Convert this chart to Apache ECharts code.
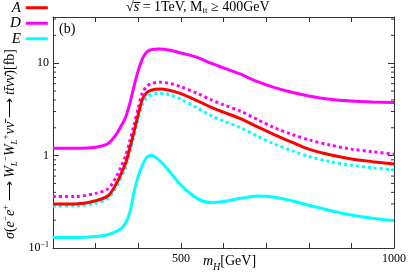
<!DOCTYPE html>
<html><head><meta charset="utf-8">
<script src="https://cdn.jsdelivr.net/npm/echarts@6/dist/echarts.min.js"></script>
<style>html,body{margin:0;padding:0;background:#fff}#c{width:409px;height:272px}</style>
</head><body><div id="c"></div><script>
// Higgs mass grid (GeV)
const mH = [200,250,300,330,350,360,370,380,390,400,410,420,430,450,475,500,540,570,600,640,680,720,760,800,850,900,950,1000];
// Cross sections [fb]
const seriesA  = [0.30,0.30,0.325,0.37,0.51,0.64,0.82,1.2,1.8,2.8,4.1,4.8,5.1,5.25,5.07,4.68,3.89,3.35,2.95,2.51,2.04,1.68,1.40,1.175,1.02,0.92,0.86,0.81];
const seriesD  = [1.2,1.2,1.23,1.36,1.74,2.1,2.57,3.63,5.6,8.3,11.2,13.2,14.0,14.2,13.8,12.9,11.5,10.0,8.9,7.6,6.3,5.43,4.84,4.42,4.07,3.89,3.80,3.75];
const seriesE  = [0.13,0.13,0.133,0.14,0.152,0.163,0.185,0.24,0.40,0.60,0.79,0.96,1.01,0.88,0.66,0.48,0.34,0.31,0.318,0.345,0.366,0.355,0.325,0.29,0.255,0.228,0.21,0.198];
const seriesD2 = [0.36,0.36,0.39,0.44,0.61,0.76,0.98,1.42,2.15,3.3,4.8,5.6,6.0,6.22,6.03,5.56,4.68,4.03,3.55,3.02,2.45,2.0,1.70,1.48,1.30,1.175,1.10,1.035];
const seriesE2 = [0.285,0.285,0.305,0.345,0.47,0.58,0.74,1.08,1.62,2.5,3.6,4.25,4.55,4.73,4.52,4.07,3.24,2.72,2.37,2.0,1.62,1.33,1.135,0.977,0.861,0.785,0.738,0.70];
const xTickLabels = [500, 1000];
const yTickLabels = [0.1, 1, 10];
const yMinorTicks = [0.2,0.3,0.4,0.5,0.6,0.7,0.8,0.9,2,3,4,5,6,7,8,9,20,30];

const X_MIN = 200, X_MAX = 1000, Y_MIN = 0.1, Y_MAX = 31.6;
const serif = 'Liberation Serif';
const pair = arr => mH.map((x, i) => [x, arr[i]]);

const chart = echarts.init(document.getElementById('c'), null, {renderer: 'canvas'});
const axisCol = '#333';
const xAxisBase = {
  type: 'value', min: X_MIN, max: X_MAX, interval: 100,
  axisLine: {show: true, lineStyle: {color: axisCol, width: 1}},
  axisTick: {show: true, inside: true, length: 5, lineStyle: {color: axisCol}},
  splitLine: {show: false}
};
const yAxisBase = {
  type: 'log', logBase: 10, min: Y_MIN, max: Y_MAX,
  axisLine: {show: true, lineStyle: {color: axisCol, width: 1}},
  axisTick: {show: true, inside: true, length: 6, lineStyle: {color: axisCol}},
  splitLine: {show: false}
};
const lineSeries = (name, data, color, dotted) => ({
  name, type: 'line', data: pair(data), showSymbol: false, symbol: 'none',
  smooth: 0.3,
  lineStyle: {color, width: 3, type: dotted ? [3, 3] : 'solid'},
  itemStyle: {color}, z: dotted ? 2 : 3
});

chart.setOption({
  animation: false,
  grid: {left: 53, right: 12, top: 17, bottom: 24},
  legend: {
    data: ['A', 'D', 'E'], orient: 'vertical', left: 5, top: -5, align: 'right',
    icon: 'rect', itemWidth: 22, itemHeight: 3, itemGap: 0,
    textStyle: {fontFamily: serif, fontStyle: 'italic', fontSize: 15, lineHeight: 15.5, color: '#000'}
  },
  xAxis: [
    Object.assign({}, xAxisBase, {position: 'bottom',
      axisLabel: {show: true, margin: 5, fontFamily: serif, fontSize: 12, color: '#000',
        formatter: v => xTickLabels.includes(v) ? String(v) : ''}}),
    Object.assign({}, xAxisBase, {position: 'top', axisLabel: {show: false}})
  ],
  yAxis: [
    Object.assign({}, yAxisBase, {position: 'left',
      axisLabel: {show: true, margin: 4, fontFamily: serif, fontSize: 12, color: '#000',
        formatter: v => {
          const r = yTickLabels.find(t => Math.abs(t - v) / t < 1e-6);
          if (r === undefined) return '';
          if (r === 0.1) return '{b|10}{s|−1}';
          return '{b|' + r + '}';
        },
        rich: {b: {fontFamily: serif, fontSize: 12, color: '#000'},
               s: {fontFamily: serif, fontSize: 8, color: '#000', padding: [0, 0, 7, 0]}}}}),
    Object.assign({}, yAxisBase, {position: 'right', axisLabel: {show: false}})
  ],
  series: [
    lineSeries('E′', seriesE2, '#00ffff', true),
    lineSeries('D′', seriesD2, '#ff00ff', true),
    lineSeries('A', seriesA, '#ff0000', false),
    lineSeries('D', seriesD, '#ff00ff', false),
    lineSeries('E', seriesE, '#00ffff', false),
    {
      name: 'minorTicks', type: 'custom', silent: true, z: 1,
      data: yMinorTicks.map(v => [X_MIN, v]),
      renderItem: (params, api) => {
        const v = api.value(1);
        const pl = api.coord([X_MIN, v]);
        const pr = api.coord([X_MAX, v]);
        const st = {stroke: axisCol, lineWidth: 1};
        return {type: 'group', children: [
          {type: 'line', shape: {x1: pl[0], y1: pl[1], x2: pl[0] + 3, y2: pl[1]}, style: st},
          {type: 'line', shape: {x1: pr[0] - 3, y1: pr[1], x2: pr[0], y2: pr[1]}, style: st}
        ]};
      }
    }
  ],
  graphic: [
    {type: 'text', left: 126, top: 0, style: {
      text: '{n|√}{i|s̅}{n| = 1TeV, M}{sub|tt}{n| ≥ 400GeV}',
      rich: {n: {fontFamily: serif, fontSize: 14, color: '#000', lineHeight: 17},
             i: {fontFamily: serif, fontStyle: 'italic', fontSize: 14, color: '#000', lineHeight: 17},
             sub: {fontFamily: serif, fontSize: 9, color: '#000', lineHeight: 17, verticalAlign: 'bottom'}}}},
    {type: 'text', left: 59, top: 22, style: {text: '(b)', fontFamily: serif, fontSize: 14, fill: '#000'}},
    {type: 'text', left: 203, top: 254, style: {
      text: '{i|m}{sub|H}{n|[GeV]}',
      rich: {n: {fontFamily: serif, fontSize: 14, color: '#000', lineHeight: 18, verticalAlign: 'top'},
             i: {fontFamily: serif, fontStyle: 'italic', fontSize: 14, color: '#000', lineHeight: 18, verticalAlign: 'top'},
             sub: {fontFamily: serif, fontStyle: 'italic', fontSize: 10, color: '#000', lineHeight: 18, verticalAlign: 'bottom'}}}},
    {type: 'text', x: 10, y: 144, rotation: Math.PI / 2, style: {
      text: '{i|σ}{n|(}{i|e}{sup|−}{i|e}{sup|+}{n| ⟶ }{i|W}{sub|L}{sup|−}{i|W}{sub|L}{sup|+}{i|νν̄}{n| ⟶ }{i|tt̄νν̄}{n|)[fb]}',
      align: 'center', verticalAlign: 'middle',
      rich: {n: {fontFamily: serif, fontSize: 14, color: '#000', lineHeight: 18},
             i: {fontFamily: serif, fontStyle: 'italic', fontSize: 14, color: '#000', lineHeight: 18},
             sup: {fontFamily: serif, fontSize: 9, color: '#000', lineHeight: 18, verticalAlign: 'top'},
             sub: {fontFamily: serif, fontStyle: 'italic', fontSize: 9, color: '#000', lineHeight: 18, verticalAlign: 'bottom'}}}}
  ]
});
</script></body></html>
